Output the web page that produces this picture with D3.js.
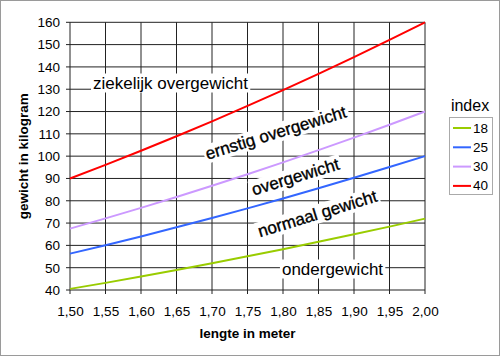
<!DOCTYPE html>
<html>
<head>
<meta charset="utf-8">
<script src="https://cdn.jsdelivr.net/npm/d3@7"></script>
<style>
  html, body { margin: 0; padding: 0; background: #fff; }
  svg { display: block; }
  text { font-family: "Liberation Sans", Arial, sans-serif; }
</style>
</head>
<body>
<svg id="chart" width="500" height="356"></svg>
<script>
// ---- data ----
const lengths = [1.50, 1.55, 1.60, 1.65, 1.70, 1.75, 1.80, 1.85, 1.90, 1.95, 2.00];
const indexes = [18, 25, 30, 40];
const weights18 = [40.5, 43.2, 46.1, 49.0, 52.0, 55.1, 58.3, 61.6, 65.0, 68.4, 72.0];
const weights25 = [56.3, 60.1, 64.0, 68.1, 72.3, 76.6, 81.0, 85.6, 90.3, 95.1, 100.0];
const weights30 = [67.5, 72.1, 76.8, 81.7, 86.7, 91.9, 97.2, 102.7, 108.3, 114.1, 120.0];
const weights40 = [90.0, 96.1, 102.4, 108.9, 115.6, 122.5, 129.6, 136.9, 144.4, 152.1, 160.0];
const seriesColors = ["#99cc00", "#3366ff", "#cc99ff", "#ff0000"];
const xTicks = [1.50, 1.55, 1.60, 1.65, 1.70, 1.75, 1.80, 1.85, 1.90, 1.95, 2.00];
const yTicks = [40, 50, 60, 70, 80, 90, 100, 110, 120, 130, 140, 150, 160];
const zoneLabels = ["ziekelijk overgewicht", "ernstig overgewicht", "overgewicht", "normaal gewicht", "ondergewicht"];
const xTitle = "lengte in meter";
const yTitle = "gewicht in kilogram";
const legendTitle = "index";

const series = [weights18, weights25, weights30, weights40].map((w, i) => ({
  index: indexes[i], color: seriesColors[i],
  values: w.map((v, j) => ({ x: lengths[j], y: v }))
}));

// ---- layout ----
const svg = d3.select("#chart");
const W = 500, H = 356;
const pL = 70, pR = 425, pT = 22.3, pB = 290;

svg.append("rect").attr("x", 0.5).attr("y", 0.5).attr("width", W - 1).attr("height", H - 1)
  .attr("fill", "#fff").attr("stroke", "#9a9a9a");

const x = d3.scaleLinear().domain([1.5, 2.0]).range([pL, pR]);
const y = d3.scaleLinear().domain([40, 160]).range([pB, pT]);

// gridlines
const grid = svg.append("g");
grid.selectAll("line.h").data(yTicks).join("line").attr("class", "h")
  .attr("x1", pL - 4).attr("x2", pR).attr("y1", d => y(d)).attr("y2", d => y(d))
  .attr("stroke", "#222").attr("stroke-width", 1);
grid.selectAll("line.v").data(xTicks).join("line").attr("class", "v")
  .attr("y1", pT).attr("y2", pB + 4).attr("x1", d => x(d)).attr("x2", d => x(d))
  .attr("stroke", "#222").attr("stroke-width", 1);

// axes (labels only; lines drawn by grid)
const fmt = d3.format(".2f");
const xAxis = svg.append("g").attr("transform", `translate(0,${pB})`)
  .call(d3.axisBottom(x).tickValues(xTicks).tickSize(4).tickPadding(12)
    .tickFormat(d => fmt(d).replace(".", ",")));
const yAxis = svg.append("g").attr("transform", `translate(${pL},0)`)
  .call(d3.axisLeft(y).tickValues(yTicks).tickSize(4).tickPadding(6));
[xAxis, yAxis].forEach(a => {
  a.select(".domain").remove();
  a.selectAll(".tick line").remove();
  a.selectAll("text").attr("fill", "#000").style("font-size", "13.5px")
    .style("font-family", '"Liberation Sans", Arial, sans-serif');
});

// zone labels with white background
function boxedLabel(txt, cx, cy, angle, size, heavy) {
  const g = svg.append("g").attr("transform", `translate(${cx},${cy}) rotate(${angle})`);
  const t = g.append("text").text(txt).attr("text-anchor", "middle")
    .attr("dominant-baseline", "central").style("font-size", size + "px").attr("fill", "#000");
  if (heavy) t.attr("stroke", "#000").attr("stroke-width", 0.35);
  const bb = t.node().getBBox();
  g.insert("rect", "text").attr("x", bb.x - 2).attr("y", bb.y).attr("width", bb.width + 4)
    .attr("height", bb.height).attr("fill", "#fff");
}
boxedLabel(zoneLabels[0], 170.5, 83, 0, 17, false);
boxedLabel(zoneLabels[1], 276, 133, -17, 17, true);
boxedLabel(zoneLabels[2], 295.5, 177, -17, 17, true);
boxedLabel(zoneLabels[3], 317.5, 214, -17, 17, true);
boxedLabel(zoneLabels[4], 332.5, 269, 0, 17, false);

// lines
const line = d3.line().x(d => x(d.x)).y(d => y(d.y));
svg.append("g").selectAll("path").data(series).join("path")
  .attr("d", d => line(d.values)).attr("fill", "none")
  .attr("stroke", d => d.color).attr("stroke-width", 2);

// axis titles
svg.append("text").text(xTitle).attr("x", (pL + pR) / 2).attr("y", 333)
  .attr("text-anchor", "middle").attr("dominant-baseline", "central")
  .style("font-size", "13.5px").style("font-weight", "bold");
svg.append("text").text(yTitle)
  .attr("transform", `translate(23,${(pT + pB) / 2}) rotate(-90)`)
  .attr("text-anchor", "middle").attr("dominant-baseline", "central")
  .style("font-size", "13.5px").style("font-weight", "bold");

// legend
svg.append("text").text(legendTitle).attr("x", 470).attr("y", 105)
  .attr("text-anchor", "middle").attr("dominant-baseline", "central").style("font-size", "16px");
svg.append("rect").attr("x", 449.5).attr("y", 117.5).attr("width", 43).attr("height", 77)
  .attr("fill", "#fff").attr("stroke", "#aaa");
const lg = svg.append("g").selectAll("g").data(series).join("g")
  .attr("transform", (d, i) => `translate(0,${128 + i * 19.3})`);
lg.append("line").attr("x1", 453).attr("x2", 471).attr("y1", 0).attr("y2", 0)
  .attr("stroke", d => d.color).attr("stroke-width", 2);
lg.append("text").text(d => d.index).attr("x", 473).attr("y", 0)
  .attr("dominant-baseline", "central").style("font-size", "13.5px");
</script>
</body>
</html>
